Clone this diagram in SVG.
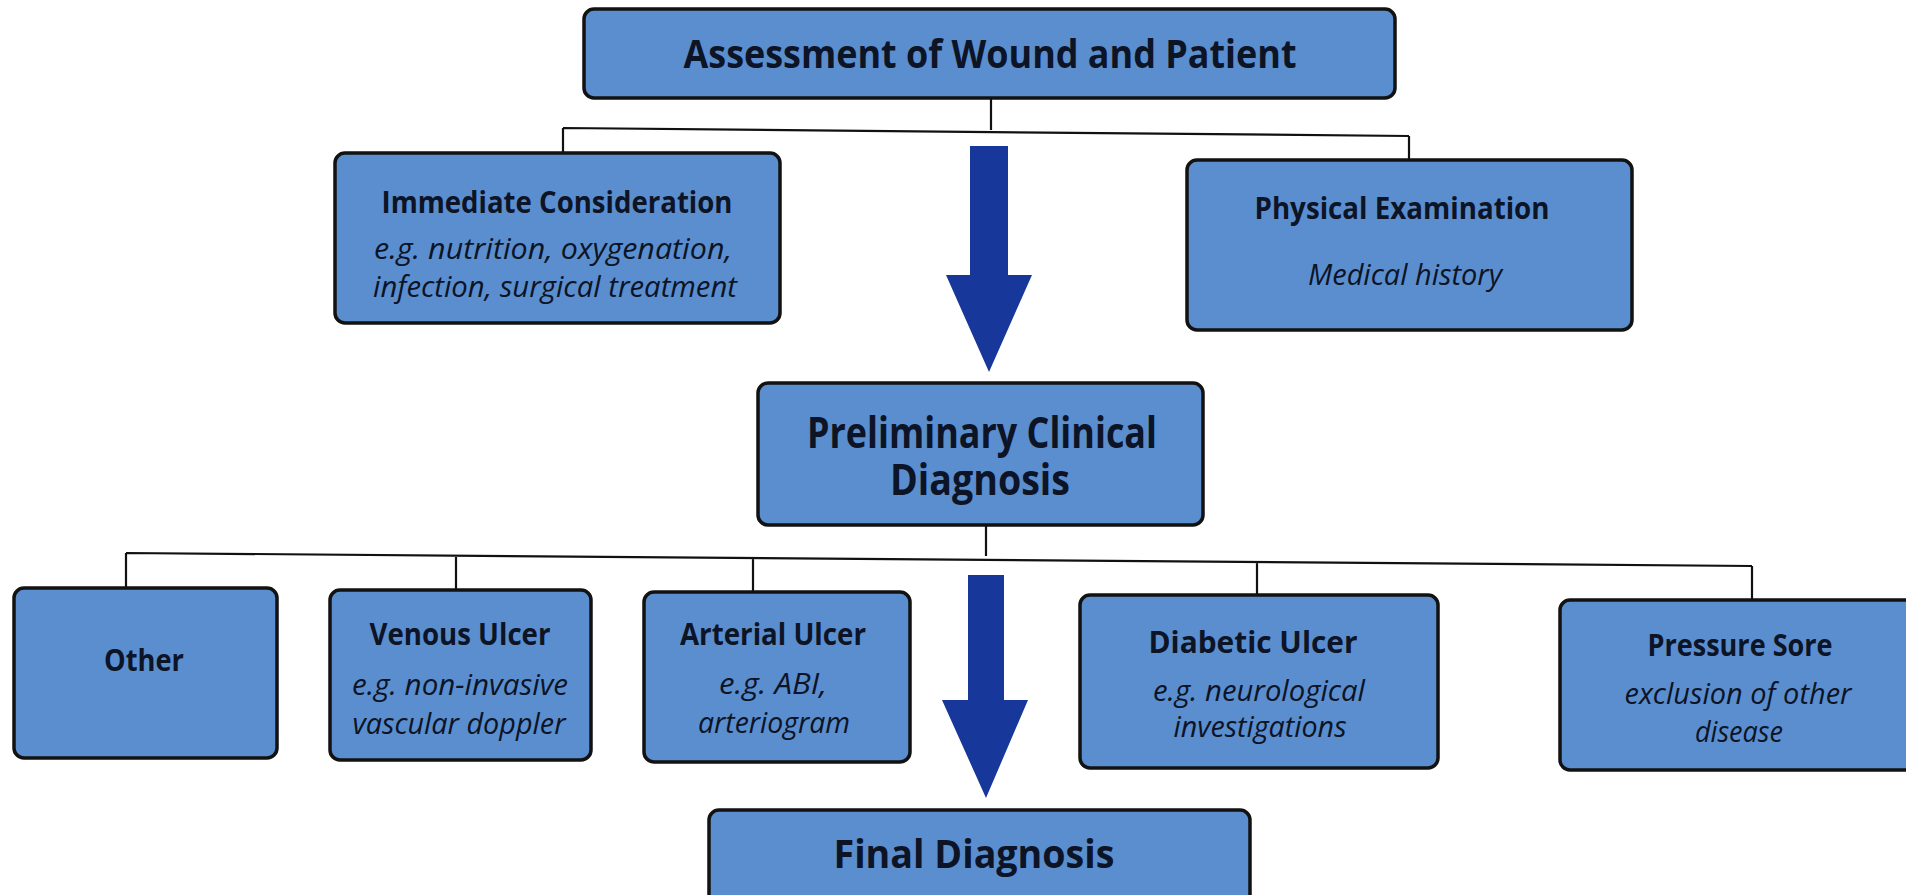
<svg xmlns="http://www.w3.org/2000/svg" width="1906" height="895" viewBox="0 0 1906 895">
<style>
.box{fill:#5b8ecf;stroke:#121212;stroke-width:3.5}
.t{font-family:"Open Sans","Noto Sans","Liberation Sans",sans-serif;font-weight:bold;fill:#0c1426;text-anchor:middle}
.i{font-family:"Open Sans","Noto Sans","Liberation Sans",sans-serif;font-style:italic;fill:#0c1426;text-anchor:middle}
.c{stroke:#111;stroke-width:2.2;fill:none}
.arr{fill:#17389a}
</style>
<rect width="1906" height="895" fill="#ffffff"/>
<g id="connectors">
<path class="c" d="M991 98 V130 M563 128 L1409 136 M563 128 V153 M1409 136 V160"/>
<path class="c" d="M986 525 V556 M126 553 L1752 566 M126 553 V588 M456 555.6 V590 M753 558 V592 M1257 562 V595 M1752 566 V600"/>
<polygon class="arr" points="970,146 1008,146 1008,275 1032,275 989,372 946,275 970,275"/>
<polygon class="arr" points="968,575 1004,575 1004,700 1028,700 986,798 942,700 968,700"/>
</g>
<g id="assessment">
<rect class="box" x="584" y="9" width="811" height="89" rx="10"/>
<text class="t" x="990" y="68" font-size="40" textLength="613" lengthAdjust="spacingAndGlyphs">Assessment of Wound and Patient</text>
</g>
<g id="immediate">
<rect class="box" x="335" y="153" width="445" height="170" rx="10"/>
<text class="t" x="557" y="213" font-size="30" textLength="351" lengthAdjust="spacingAndGlyphs">Immediate Consideration</text>
<text class="i" x="553" y="259" font-size="30" textLength="358" lengthAdjust="spacingAndGlyphs">e.g. nutrition, oxygenation,</text>
<text class="i" x="555" y="297" font-size="30" textLength="364" lengthAdjust="spacingAndGlyphs">infection, surgical treatment</text>
</g>
<g id="physical">
<rect class="box" x="1187" y="160" width="445" height="170" rx="10"/>
<text class="t" x="1402" y="219" font-size="30" textLength="295" lengthAdjust="spacingAndGlyphs">Physical Examination</text>
<text class="i" x="1405" y="285" font-size="30" textLength="194" lengthAdjust="spacingAndGlyphs">Medical history</text>
</g>
<g id="preliminary">
<rect class="box" x="758" y="383" width="445" height="142" rx="10"/>
<text class="t" x="982" y="448" font-size="43" textLength="350" lengthAdjust="spacingAndGlyphs">Preliminary Clinical</text>
<text class="t" x="980" y="495" font-size="43" textLength="180" lengthAdjust="spacingAndGlyphs">Diagnosis</text>
</g>
<g id="other">
<rect class="box" x="14" y="588" width="263" height="170" rx="10"/>
<text class="t" x="144" y="671" font-size="30" textLength="80" lengthAdjust="spacingAndGlyphs">Other</text>
</g>
<g id="venous">
<rect class="box" x="330" y="590" width="261" height="170" rx="10"/>
<text class="t" x="460" y="645" font-size="30" textLength="181" lengthAdjust="spacingAndGlyphs">Venous Ulcer</text>
<text class="i" x="460" y="695" font-size="30" textLength="216" lengthAdjust="spacingAndGlyphs">e.g. non-invasive</text>
<text class="i" x="459" y="734" font-size="30" textLength="213" lengthAdjust="spacingAndGlyphs">vascular doppler</text>
</g>
<g id="arterial">
<rect class="box" x="644" y="592" width="266" height="170" rx="10"/>
<text class="t" x="773" y="645" font-size="30" textLength="186" lengthAdjust="spacingAndGlyphs">Arterial Ulcer</text>
<text class="i" x="773" y="694" font-size="30" textLength="108" lengthAdjust="spacingAndGlyphs">e.g. ABI,</text>
<text class="i" x="774" y="733" font-size="30" textLength="152" lengthAdjust="spacingAndGlyphs">arteriogram</text>
</g>
<g id="diabetic">
<rect class="box" x="1080" y="595" width="358" height="173" rx="10"/>
<text class="t" x="1253" y="653" font-size="30" textLength="209" lengthAdjust="spacingAndGlyphs">Diabetic Ulcer</text>
<text class="i" x="1259" y="701" font-size="30" textLength="212" lengthAdjust="spacingAndGlyphs">e.g. neurological</text>
<text class="i" x="1260" y="737" font-size="30" textLength="173" lengthAdjust="spacingAndGlyphs">investigations</text>
</g>
<g id="pressure">
<rect class="box" x="1560" y="600" width="360" height="170" rx="10"/>
<text class="t" x="1740" y="656" font-size="30" textLength="185" lengthAdjust="spacingAndGlyphs">Pressure Sore</text>
<text class="i" x="1738" y="704" font-size="30" textLength="227" lengthAdjust="spacingAndGlyphs">exclusion of other</text>
<text class="i" x="1739" y="742" font-size="30" textLength="88" lengthAdjust="spacingAndGlyphs">disease</text>
</g>
<g id="final">
<rect class="box" x="709" y="810" width="541" height="100" rx="10"/>
<text class="t" x="974" y="868" font-size="40" textLength="281" lengthAdjust="spacingAndGlyphs">Final Diagnosis</text>
</g>
</svg>
